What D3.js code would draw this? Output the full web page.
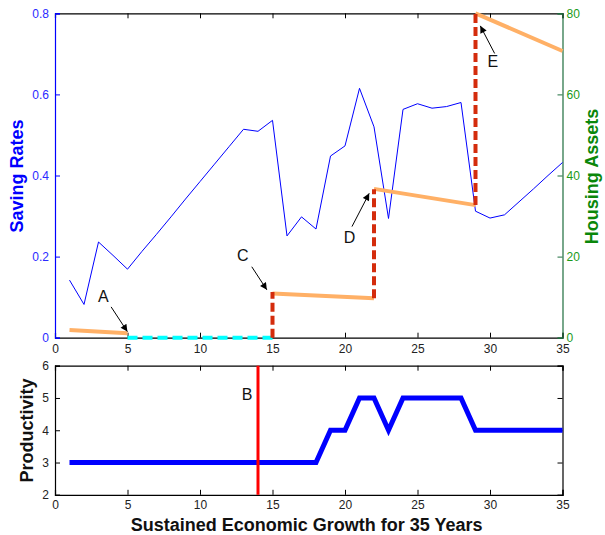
<!DOCTYPE html>
<html><head><meta charset="utf-8">
<script src="https://cdn.jsdelivr.net/npm/d3@7"></script>
<style>body{margin:0;background:#fff}svg{display:block;font-family:"Liberation Sans",Arial,sans-serif}</style>
</head><body><svg id="c" width="605" height="535"></svg>
<script>
const years = d3.range(1, 36);
const savingRates = [0.142,0.082,0.236,0.203,0.169,0.213,0.255,0.298,0.342,0.385,0.428,0.471,0.514,0.509,0.536,0.251,0.298,0.268,0.448,0.473,0.615,0.520,0.294,0.563,0.577,0.566,0.570,0.580,0.312,0.295,0.303,0.335,0.367,0.400,0.432];
const productivity = [3,3,3,3,3,3,3,3,3,3,3,3,3,3,3,3,3,3,4,4,5,5,4,5,5,5,5,5,4,4,4,4,4,4,4];
// housing asset segments [x0, y0, x1, y1]
const housingSegs = [[1,1.9,5,1.1],[15,10.9,22,9.7],[22,36.7,29,32.7],[29,80,35,70.7]];
const zeroSeg = [[5,0,15,0]];
const jumps = [[15,0,11.3],[22,9.7,36.6],[29,32.7,80]];
const shockYear = 14;
const notes = [
  {label:"A", tx:3.33, ty:10.3, x0:3.87, y0:7.6, x1:4.99, y1:1.5},
  {label:"C", tx:12.95, ty:20.4, x0:13.57, y0:17.5, x1:14.61, y1:11.8},
  {label:"D", tx:20.31, ty:24.8, x0:20.48, y0:27.4, x1:21.67, y1:35.6},
  {label:"E", tx:30.2, ty:68.1, x0:30.32, y0:70.1, x1:29.33, y1:76.9}
];
const xTicks = [0,5,10,15,20,25,30,35];
const leftTicks = [0,0.2,0.4,0.6,0.8];
const rightTicks = [0,20,40,60,80];
const prodTicks = [2,3,4,5,6];

const svg = d3.select("#c");
const L = 55, R = 562.5;
const x = d3.scaleLinear().domain([0,35]).range([L,R]);
const yS = d3.scaleLinear().domain([0,0.8]).range([337.7,13.3]);
const yH = d3.scaleLinear().domain([0,80]).range([337.7,13.3]);
const yP = d3.scaleLinear().domain([2,6]).range([494.8,365.7]);

const BLUE="#0000ff", GREEN="#1a9a1a", GREEN_T="#0a870a", ORANGE="#ffb066", RED="#d42c0c", CYAN="#00ffff";
const TL = 5;

svg.append("defs").append("marker").attr("id","ah").attr("viewBox","0 0 10 10").attr("refX",10).attr("refY",5)
  .attr("markerWidth",10).attr("markerHeight",7).attr("markerUnits","userSpaceOnUse").attr("orient","auto")
  .append("path").attr("d","M0,0L10,5L0,10Z").attr("fill","#000");

function frame(g, yTop, yBottom, pad){
  g.append("g").attr("transform",`translate(0,${yBottom})`)
    .call(d3.axisBottom(x).tickValues(xTicks).tickSize(-TL).tickPadding(pad).tickFormat(d3.format("d")))
    .call(a=>{a.select(".domain").attr("stroke","#000").attr("stroke-width",1.2);a.selectAll("text").attr("font-size",12).attr("fill","#222").attr("font-family","Liberation Sans, Arial");});
  g.append("g").attr("transform",`translate(0,${yTop})`)
    .call(d3.axisTop(x).tickValues(xTicks).tickSize(-TL).tickFormat(""))
    .call(a=>{a.select(".domain").attr("stroke","#000").attr("stroke-width",1.2);});
}

// ---- top panel
const topG = svg.append("g");
frame(topG, 13.3, 337.7, 7);
topG.append("g").attr("transform",`translate(${L},0)`)
  .call(d3.axisLeft(yS).tickValues(leftTicks).tickSize(-TL).tickPadding(6).tickFormat(d=>d===0?"0":d3.format(".1f")(d)))
  .call(a=>{a.select(".domain").attr("stroke",BLUE).attr("stroke-width",1.2);a.selectAll("line").attr("stroke",BLUE);a.selectAll("text").attr("font-size",12).attr("fill","#2a2aff").attr("font-family","Liberation Sans, Arial");});
topG.append("g").attr("transform",`translate(${R},0)`)
  .call(d3.axisRight(yH).tickValues(rightTicks).tickSize(-TL).tickPadding(4))
  .call(a=>{a.select(".domain").attr("stroke","#1e6e3e").attr("stroke-width",1.2);a.selectAll("line").attr("stroke","#1e6e3e");a.selectAll("text").attr("font-size",12).attr("fill",GREEN).attr("font-family","Liberation Sans, Arial");});

topG.append("path").datum(years.map((d,i)=>[d,savingRates[i]]))
  .attr("d",d3.line().x(d=>x(d[0])).y(d=>yS(d[1]))).attr("fill","none").attr("stroke",BLUE).attr("stroke-width",1);

topG.selectAll(".cy").data(zeroSeg).join("line").attr("x1",d=>x(d[0])).attr("y1",d=>yH(d[1])).attr("x2",d=>x(d[2])).attr("y2",d=>yH(d[3]))
  .attr("stroke",CYAN).attr("stroke-width",4).attr("stroke-dasharray","10,5");
topG.selectAll(".hs").data(housingSegs).join("line").attr("x1",d=>x(d[0])).attr("y1",d=>yH(d[1])).attr("x2",d=>x(d[2])).attr("y2",d=>yH(d[3]))
  .attr("stroke",ORANGE).attr("stroke-width",4);
topG.selectAll(".jp").data(jumps).join("line").attr("x1",d=>x(d[0])).attr("y1",d=>yH(d[1])).attr("x2",d=>x(d[0])).attr("y2",d=>yH(d[2]))
  .attr("stroke",RED).attr("stroke-width",4).attr("stroke-dasharray","9,4");

notes.forEach(n=>{
  topG.append("line").attr("x1",x(n.x0)).attr("y1",yH(n.y0)).attr("x2",x(n.x1)).attr("y2",yH(n.y1))
    .attr("stroke","#000").attr("stroke-width",1).attr("marker-end","url(#ah)");
  topG.append("text").attr("x",x(n.tx)).attr("y",yH(n.ty)).attr("dy","0.36em").attr("text-anchor","middle")
    .attr("font-size",16).attr("fill","#111").text(n.label);
});

svg.append("text").attr("transform","translate(23,176) rotate(-90)").attr("text-anchor","middle")
  .attr("font-size",18).attr("font-weight","bold").attr("fill",BLUE).text("Saving Rates");
svg.append("text").attr("transform","translate(598,176.5) rotate(-90)").attr("text-anchor","middle")
  .attr("font-size",18).attr("font-weight","bold").attr("fill",GREEN_T).text("Housing Assets");

// ---- bottom panel
const botG = svg.append("g");
frame(botG, 365.7, 494.8, 6);
botG.append("g").attr("transform",`translate(${L},0)`)
  .call(d3.axisLeft(yP).tickValues(prodTicks).tickSize(-TL).tickPadding(6).tickFormat(d3.format("d")))
  .call(a=>{a.select(".domain").attr("stroke","#000").attr("stroke-width",1.2);a.selectAll("text").attr("font-size",12).attr("fill","#222").attr("font-family","Liberation Sans, Arial");});
botG.append("g").attr("transform",`translate(${R},0)`)
  .call(d3.axisRight(yP).tickValues(prodTicks).tickSize(-TL).tickFormat(""))
  .call(a=>{a.select(".domain").attr("stroke","#000").attr("stroke-width",1.2);});

botG.append("path").datum(years.map((d,i)=>[d,productivity[i]]))
  .attr("d",d3.line().x(d=>x(d[0])).y(d=>yP(d[1]))).attr("fill","none").attr("stroke",BLUE).attr("stroke-width",5).attr("stroke-linejoin","miter");
botG.append("line").attr("x1",x(shockYear)).attr("x2",x(shockYear)).attr("y1",yP(6)).attr("y2",yP(2))
  .attr("stroke","#ff0000").attr("stroke-width",3);
botG.append("text").attr("x",x(shockYear)-11).attr("y",yP(5.13)).attr("dy","0.36em").attr("text-anchor","middle")
  .attr("font-size",16).attr("fill","#111").text("B");

svg.append("text").attr("transform","translate(33,430.5) rotate(-90)").attr("text-anchor","middle")
  .attr("font-size",18).attr("font-weight","bold").attr("fill","#111").text("Productivity");
svg.append("text").attr("x",306.7).attr("y",531).attr("text-anchor","middle")
  .attr("font-size",18).attr("font-weight","bold").attr("fill","#111").text("Sustained Economic Growth for 35 Years");
</script></body></html>
